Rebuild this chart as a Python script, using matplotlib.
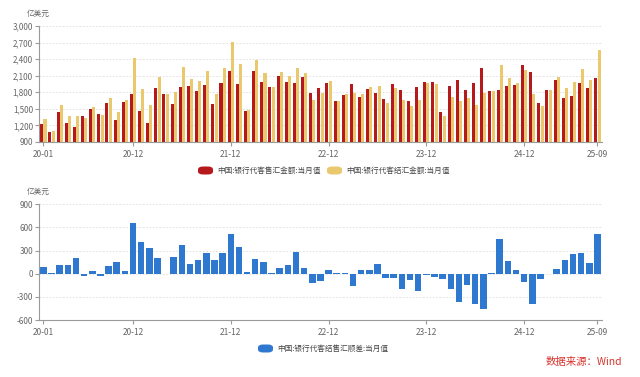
import matplotlib
matplotlib.use("Agg")
import matplotlib.pyplot as plt
from matplotlib.patches import FancyBboxPatch
from matplotlib.ticker import FuncFormatter
import numpy as np

plt.rcParams['font.family'] = ['Noto Sans CJK SC', 'DejaVu Sans']

# ---- data ----
months = [f"{y:02d}-{m:02d}" for y in range(20, 26) for m in range(1, 13)][:69]
sell = [1226, 1090, 1446, 1248, 1164, 1370, 1500, 1404, 1597, 1296, 1622, 1768,
        1461, 1238, 1878, 1768, 1581, 1901, 1907, 1823, 1931, 1587, 1967, 2190,
        1949, 1461, 2190, 1991, 1901, 2088, 1985, 1961, 2070, 1780, 1883, 1961,
        1636, 1744, 1949, 1720, 1859, 1786, 1672, 1943, 1841, 1636, 1895, 1979,
        1991, 1443, 1913, 2016, 1841, 1973, 2233, 1817, 1835, 1913, 1931, 2299,
        2160, 1612, 1841, 2022, 1696, 1732, 1967, 1877, 2058]
buy = [1310, 1095, 1561, 1362, 1362, 1340, 1536, 1380, 1693, 1440, 1652, 2412,
       1862, 1573, 2083, 1760, 1804, 2263, 2034, 2003, 2190, 1768, 2239, 2709,
       2305, 1479, 2383, 2142, 1901, 2166, 2094, 2239, 2142, 1665, 1792, 2003,
       1640, 1760, 1792, 1768, 1901, 1913, 1612, 1883, 1654, 1551, 1660, 1967,
       1949, 1376, 1708, 1642, 1696, 1563, 1780, 1823, 2293, 2064, 1973, 2196,
       1768, 1545, 1841, 2082, 1871, 1985, 2227, 2022, 2564]
net = [82, 5, 113, 117, 199, -30, 35, -26, 95, 147, 35, 654,
       407, 333, 199, -5, 212, 368, 126, 178, 268, 178, 273, 515,
       351, 22, 195, 152, 3, 74, 108, 286, 69, -117, -91, 48,
       4, 13, -156, 48, 43, 121, -56, -56, -195, -80, -230, -13,
       -43, -65, -203, -368, -143, -394, -459, 9, 455, 160, 43, -104,
       -394, -69, 2, 56, 173, 255, 268, 143, 515]
tick_labels = ["20-01", "20-12", "21-12", "22-12", "23-12", "24-12", "25-09"]
top_yticks = [900, 1200, 1500, 1800, 2100, 2400, 2700, 3000]
bot_yticks = [-600, -300, 0, 300, 600, 900]
unit = "亿美元"
legend_sell = "中国:银行代客售汇金额:当月值"
legend_buy = "中国:银行代客结汇金额:当月值"
legend_net = "中国:银行代客结售汇顺差:当月值"
source = "数据来源：Wind"

RED = "#B5191C"
GOLD = "#E9C86E"
BLUE = "#2F78CF"
GRID = "#DDDDDD"
AXC = "#9A9A9A"
TXT = "#666666"

W, H = 640, 377
fig = plt.figure(figsize=(W / 100, H / 100), dpi=100)
fig.patch.set_facecolor("white")

def px_axes(x0, y0, x1, y1):
    return fig.add_axes([x0 / W, 1 - y1 / H, (x1 - x0) / W, (y1 - y0) / H])

x = np.arange(len(months))
tick_pos = [months.index(t) for t in tick_labels]

def style(ax, yticks):
    ax.set_xlim(-0.5, len(months) - 0.5)
    ax.set_ylim(yticks[0], yticks[-1])
    ax.set_yticks(yticks)
    ax.yaxis.set_major_formatter(FuncFormatter(lambda v, p: f"{int(v):,}"))
    ax.set_xticks(tick_pos)
    ax.set_xticklabels(tick_labels)
    for s in ["top", "right"]:
        ax.spines[s].set_visible(False)
    for s in ["left", "bottom"]:
        ax.spines[s].set_color(AXC)
        ax.spines[s].set_linewidth(0.8)
    ax.tick_params(axis="both", colors=AXC, length=3, width=0.8, labelsize=5.8,
                   labelcolor=TXT, pad=1.5)
    ax.tick_params(axis="x", pad=2.5, labelsize=6)
    ax.grid(axis="y", color=GRID, linestyle=(0, (2, 2)), linewidth=0.6)
    ax.set_axisbelow(True)

# top chart
ax1 = px_axes(39.3, 26, 601.5, 142)
ax1.bar(x - 0.2, sell, width=0.37, color=RED)
ax1.bar(x + 0.2, buy, width=0.37, color=GOLD)
style(ax1, top_yticks)

# bottom chart
ax2 = px_axes(39.3, 204.3, 601.5, 320)
ax2.bar(x, net, width=0.8, color=BLUE)
style(ax2, bot_yticks)

# unit labels
fig.text(27 / W, 1 - 13.5 / H, unit, fontsize=5.5, color=TXT, va="center", ha="left")
fig.text(27 / W, 1 - 191.5 / H, unit, fontsize=5.5, color=TXT, va="center", ha="left")

def legend_item(x0, yc, color, label):
    w, h = 15, 8
    p = FancyBboxPatch(((x0) / W, 1 - (yc + h / 2) / H), w / W, h / H,
                       boxstyle="round,pad=0,rounding_size=0.008",
                       transform=fig.transFigure, facecolor=color, edgecolor="none")
    fig.patches.append(p)
    fig.text((x0 + w + 4) / W, 1 - yc / H, label, fontsize=5.5, color="#444444",
             va="center", ha="left")

legend_item(198, 170.5, RED, legend_sell)
legend_item(327, 170.5, GOLD, legend_buy)
legend_item(258, 348.5, BLUE, legend_net)

fig.text(622 / W, 1 - 362.5 / H, source, fontsize=7.5, color="#D8322B",
         va="center", ha="right")

fig.savefig("out.png", dpi=100, facecolor="white")
